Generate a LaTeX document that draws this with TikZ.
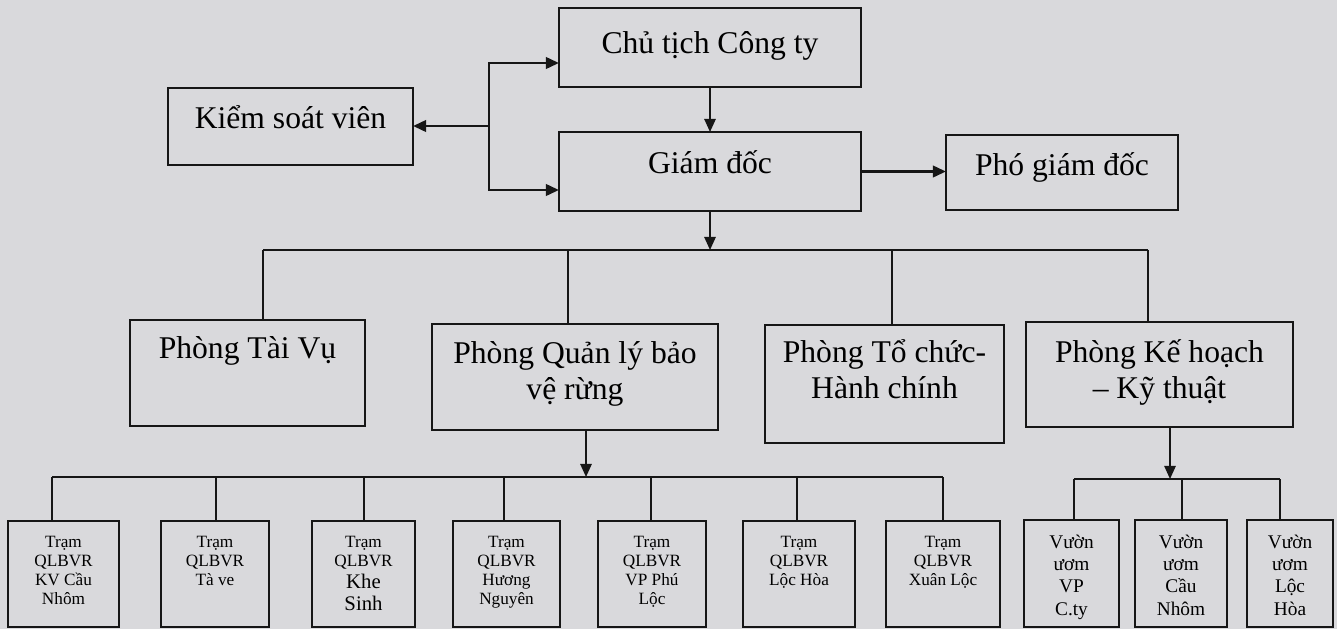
\documentclass[tikz,border=0pt]{standalone}
\usepackage{fontspec}
\setmainfont{Liberation Serif}
\usetikzlibrary{arrows.meta}

\definecolor{paper}{HTML}{D9D9DC}
\definecolor{ink}{HTML}{161616}

% one pixel of the original scan
\newdimen\pxu \pxu=0.02cm
% box text, top aligned: width, height, first baseline, text
\newcommand{\boxtext}[4]{\parbox[t][#2\pxu][t]{#1\pxu}{\centering\rule{0pt}{#3\pxu}#4\par}}

\begin{document}
\begin{tikzpicture}[x=0.02cm, y=-0.02cm, >={Triangle[length=7.5pt,width=6.5pt]}]
	\fill[paper] (0,0) rectangle (1337,629);
	\useasboundingbox (0,0) rectangle (1337,629);

	\begin{scope}[every node/.style={draw=ink, line width=1.3pt, inner sep=0pt, outer sep=0pt, anchor=north west, font=\fontsize{18}{20.5}\selectfont}]
		\node (chu) at (559,8) {\boxtext{302}{79}{45}{Chủ tịch Công ty}};
		\node (kiem) at (168,88) {\boxtext{245}{77}{40}{Kiểm soát viên}};
		\node (giam) at (559,132) {\boxtext{302}{79}{41}{Giám đốc}};
		\node (pho) at (946,135) {\boxtext{232}{75}{40}{Phó giám đốc}};
		\node (taivu) at (130,320) {\boxtext{235}{106}{38}{Phòng Tài Vụ}};
		\node (qlbvr) at (432,324) {\boxtext{286}{106}{39}{Phòng Quản lý bảo\\vệ rừng}};
		\node (tochuc) at (765,325) {\boxtext{239}{118}{37}{Phòng Tổ chức-\\Hành chính}};
		\node (kehoach) at (1026,322) {\boxtext{267}{105}{40}{Phòng Kế hoạch\\– Kỹ thuật}};
	\end{scope}

	\begin{scope}[every node/.style={draw=ink, line width=1.2pt, inner sep=0pt, outer sep=0pt, anchor=north west, font=\fontsize{9.8}{10.9}\selectfont}]
		\node (tr1) at (8,521) {\boxtext{111}{106}{26}{Trạm\\QLBVR\\KV Cầu\\Nhôm}};
		\node (tr2) at (161,521) {\boxtext{108}{106}{26}{Trạm\\QLBVR\\Tà ve}};
		\node (tr3) at (312,521) {\boxtext{103}{106}{26}{Trạm\\QLBVR\\\fontsize{11.8}{12.6}\selectfont Khe\\Sinh}};
		\node (tr4) at (453,521) {\boxtext{107}{106}{26}{Trạm\\QLBVR\\Hương\\Nguyên}};
		\node (tr5) at (598,521) {\boxtext{108}{106}{26}{Trạm\\QLBVR\\VP Phú\\Lộc}};
		\node (tr6) at (743,521) {\boxtext{112}{106}{26}{Trạm\\QLBVR\\Lộc Hòa}};
		\node (tr7) at (886,521) {\boxtext{114}{106}{26}{Trạm\\QLBVR\\Xuân Lộc}};
	\end{scope}

	\begin{scope}[every node/.style={draw=ink, line width=1.2pt, inner sep=0pt, outer sep=0pt, anchor=north west, font=\fontsize{11}{12.8}\selectfont}]
		\node (v1) at (1024,520) {\boxtext{95}{107}{28}{Vườn\\ươm\\VP\\C.ty}};
		\node (v2) at (1135,520) {\boxtext{92}{107}{28}{Vườn\\ươm\\Cầu\\Nhôm}};
		\node (v3) at (1247,520) {\boxtext{86}{107}{28}{Vườn\\ươm\\Lộc\\Hòa}};
	\end{scope}

	% top part
	\coordinate (kj) at (489,126);
	\begin{scope}[every path/.style={draw=ink, line width=1.6pt}]
		\draw[->] (kj) -- (kiem.east |- kj);
		\draw[->] (kj) |- (chu.west |- 0,63);
		\draw[->] (kj) |- (giam.west |- 0,190);
		\draw[->] (giam.east) -- (pho.west |- giam.east);
	\end{scope}

	\begin{scope}[every path/.style={draw=ink, line width=1pt}]
		\draw[->] (chu.south) -- (giam.north);
		% departments
		\coordinate (bus1) at (710,250);
		\draw[->] (bus1 |- giam.south) -- (bus1);
		\draw (263,250) -- (1148,250);
		\foreach \n/\x in {taivu/263, qlbvr/568, tochuc/892, kehoach/1148}
			\draw (\x,250) -- (\x,0 |- \n.north);
		% stations
		\coordinate (bus2) at (586,477);
		\draw[->] (bus2 |- qlbvr.south) -- (bus2);
		\draw (52,477) -- (943,477);
		\foreach \n/\x in {tr1/52, tr2/216, tr3/364, tr4/504, tr5/651, tr6/797, tr7/943}
			\draw (\x,477) -- (\x,0 |- \n.north);
		% nurseries
		\coordinate (bus3) at (1170,479);
		\draw[->] (bus3 |- kehoach.south) -- (bus3);
		\draw (1074,479) -- (1280,479);
		\foreach \n/\x in {v1/1074, v2/1182, v3/1280}
			\draw (\x,479) -- (\x,0 |- \n.north);
	\end{scope}
\end{tikzpicture}
\end{document}
